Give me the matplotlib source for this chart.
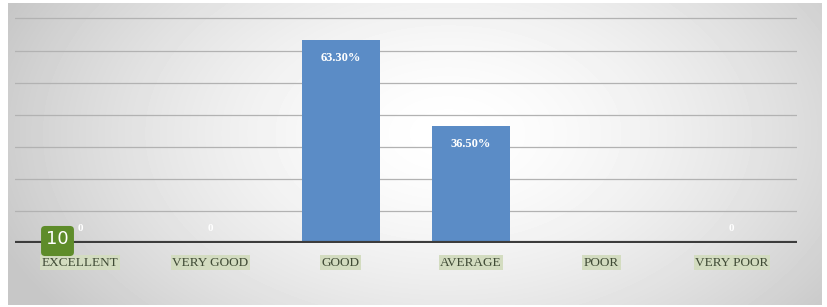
import numpy as np
import matplotlib
matplotlib.use("Agg")
import matplotlib.pyplot as plt
from matplotlib.patches import FancyBboxPatch

# data
categories = ["EXCELLENT", "VERY GOOD", "GOOD", "AVERAGE", "POOR", "VERY POOR"]
values = [0, 0, 63.3, 36.5, 0, 0]
value_labels = ["0", "0", "63.30%", "36.50%", "", "0"]
grid_levels = [10, 20, 30, 40, 50, 60, 70]

W, H = 828, 307
fig = plt.figure(figsize=(W / 100, H / 100), dpi=100)
fig.patch.set_facecolor("white")

# radial grey background of chart area
bg = fig.add_axes([8 / W, 2 / H, 814 / W, 302 / H])
yy, xx = np.mgrid[0:302, 0:814]
r = np.sqrt(((xx - 440) / 480.0) ** 2 + ((yy - 130) / 300.0) ** 2)
shade = 1.0 - 0.22 * np.clip(r, 0, 1.0) ** 1.6
bg.imshow(shade, cmap="gray", vmin=0, vmax=1, aspect="auto", interpolation="bilinear")
bg.axis("off")

ax = fig.add_axes([15 / W, 64 / H, 782 / W, (243 - 12) / H])
ax.patch.set_alpha(0)
x = np.arange(len(categories))
ax.bar(x, values, width=0.6, color="#5b8cc6", zorder=3)
for lv in grid_levels:
    ax.axhline(lv, color="#b2b2b2", lw=0.9, zorder=1)
ax.axhline(0, color="#3c3c3c", lw=3, zorder=4)
ax.set_xlim(-0.5, len(categories) - 0.5)
ax.set_ylim(0, 72)
for s in ax.spines.values():
    s.set_visible(False)
ax.set_yticks([])
ax.set_xticks(x)
ax.set_xticklabels(categories, family="Liberation Serif", fontsize=9.5, color="#3f4a35")
for lbl in ax.get_xticklabels():
    lbl.set_bbox(dict(facecolor="#d3dcc0", edgecolor="none", pad=1))
ax.tick_params(axis="x", length=0, pad=10)

for xi, v, t in zip(x, values, value_labels):
    if not t:
        continue
    if v > 0:
        ax.text(xi, v - 5.5, t, ha="center", va="center", color="white",
                family="Liberation Serif", fontweight="bold", fontsize=9)
    else:
        ax.text(xi, 4.5, t, ha="center", va="center", color="white",
                family="Liberation Serif", fontweight="bold", fontsize=8)

# green badge overlay
badge = fig.add_axes([40 / W, (307 - 257) / H, 35 / W, 32 / H])
badge.axis("off")
badge.add_patch(FancyBboxPatch((0.03, 0.03), 0.94, 0.94, boxstyle="round,pad=0,rounding_size=0.12",
                               facecolor="#5e8c2a", edgecolor="none", transform=badge.transAxes))
badge.text(0.5, 0.56, "10", ha="center", va="center", color="white", fontsize=13,
           family="DejaVu Sans", transform=badge.transAxes)

fig.savefig("out.png", dpi=100)
